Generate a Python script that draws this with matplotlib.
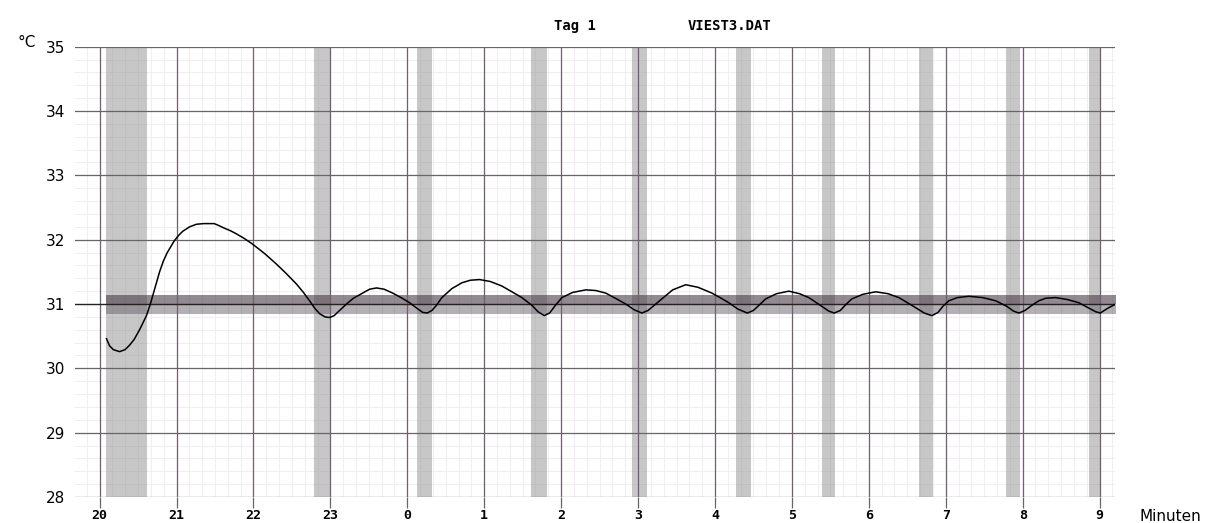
import matplotlib
matplotlib.use("Agg")
import matplotlib.pyplot as plt
import numpy as np

# hours since 20:00 and temperature in degC
t = [0.09, 0.13, 0.18, 0.26, 0.33, 0.39, 0.45, 0.52, 0.61, 0.66, 0.72, 0.78,
     0.83, 0.88, 0.93, 0.97, 1.03, 1.08, 1.17, 1.26, 1.35, 1.49, 1.55, 1.62,
     1.70, 1.78, 1.88, 1.99, 2.15, 2.30, 2.43, 2.56, 2.65, 2.73, 2.80, 2.86,
     2.93, 2.99, 3.05, 3.12, 3.21, 3.30, 3.42, 3.51, 3.60, 3.70, 3.81, 3.92,
     4.03, 4.13, 4.20, 4.26, 4.32, 4.38, 4.45, 4.58, 4.71, 4.82, 4.94, 5.08,
     5.23, 5.36, 5.49, 5.62, 5.70, 5.78, 5.85, 5.92, 6.01, 6.15, 6.32, 6.45,
     6.58, 6.72, 6.84, 6.95, 7.05, 7.13, 7.20, 7.31, 7.45, 7.62, 7.78, 7.96,
     8.08, 8.18, 8.30, 8.42, 8.50, 8.58, 8.66, 8.80, 8.96, 9.10, 9.22, 9.38,
     9.48, 9.55, 9.63, 9.70, 9.78, 9.92, 10.09, 10.25, 10.39, 10.60, 10.72,
     10.82, 10.90, 10.96, 11.04, 11.15, 11.30, 11.48, 11.65, 11.80, 11.88,
     11.95, 12.03, 12.12, 12.21, 12.30, 12.43, 12.58, 12.73, 12.87, 12.95,
     13.01, 13.10, 13.21]
temp = [30.46, 30.35, 30.29, 30.26, 30.29, 30.36, 30.45, 30.60, 30.82, 31.00,
        31.25, 31.50, 31.67, 31.80, 31.90, 31.98, 32.07, 32.13, 32.20, 32.24,
        32.25, 32.25, 32.22, 32.18, 32.14, 32.09, 32.02, 31.93, 31.78, 31.62,
        31.47, 31.31, 31.18, 31.05, 30.93, 30.85, 30.80, 30.79, 30.82, 30.90,
        31.00, 31.09, 31.17, 31.23, 31.25, 31.23, 31.17, 31.10, 31.02, 30.93,
        30.87, 30.86, 30.90, 30.98, 31.10, 31.24, 31.33, 31.37, 31.38, 31.35,
        31.28, 31.19, 31.10, 30.98, 30.88, 30.82, 30.86, 30.97, 31.10, 31.18,
        31.22, 31.21, 31.17, 31.08, 31.00, 30.91, 30.86, 30.90, 30.97, 31.08,
        31.22, 31.30, 31.26, 31.17, 31.09, 31.02, 30.92, 30.86, 30.90, 30.99,
        31.08, 31.16, 31.20, 31.16, 31.10, 30.97, 30.89, 30.86, 30.90, 30.99,
        31.08, 31.15, 31.19, 31.16, 31.10, 30.95, 30.86, 30.82, 30.87, 30.96,
        31.05, 31.10, 31.12, 31.10, 31.05, 30.96, 30.89, 30.86, 30.90, 30.98,
        31.05, 31.09, 31.10, 31.07, 31.02, 30.93, 30.88, 30.86, 30.93, 31.00]

# heating periods (start, end) in hours since 20:00
band_start = [0.09, 2.79, 4.12, 5.61, 6.92, 8.27, 9.39, 10.65, 11.78, 12.86]
band_end = [0.62, 3.01, 4.32, 5.82, 7.12, 8.47, 9.56, 10.84, 11.96, 13.00]

setpoint = 31.0
tol_upper = 31.14
tol_lower = 30.85

hour_labels = ['20', '21', '22', '23', '0', '1', '2', '3', '4', '5', '6', '7', '8', '9']
temp_ticks = [28, 29, 30, 31, 32, 33, 34, 35]

fig = plt.figure(figsize=(12.11, 5.23), dpi=100)
ax = fig.add_axes([0.0619, 0.0497, 0.8588, 0.861])

ax.set_xlim(-0.32, 13.2)
ax.set_ylim(28, 35)

# faint minor grid
for x in np.arange(-1 / 6, 13.2, 1 / 6):
    ax.axvline(x, color='#f0eef0', lw=0.8, zorder=0)
for y in np.arange(28.2, 35, 0.2):
    ax.axhline(y, color='#f0eef0', lw=0.8, zorder=0)

# vertical heater bands
for a, b in zip(band_start, band_end):
    ax.axvspan(a, b, color='#9a9a9a', alpha=0.55, lw=0, zorder=1)

# tolerance band around setpoint
ax.fill_between([t[0], t[-1]], setpoint, tol_upper, color='#4a3a48', alpha=0.6, lw=0, zorder=2)
ax.fill_between([t[0], t[-1]], tol_lower, setpoint, color='#6a606a', alpha=0.5, lw=0, zorder=2)

# major grid
for i in range(len(hour_labels)):
    ax.axvline(i, color='#6e606e', lw=0.9, zorder=3)
for y in temp_ticks:
    if y != setpoint:
        ax.axhline(y, color='#6e606e', lw=0.9, zorder=3)
ax.axhline(setpoint, color='#222222', lw=1.0, zorder=3)

ax.plot(t, temp, color='black', lw=1.1, zorder=5)

for s in ax.spines.values():
    s.set_visible(False)

ax.set_xticks(range(len(hour_labels)))
ax.set_xticklabels(hour_labels, family='DejaVu Sans Mono', fontweight='bold', fontsize=9.5)
ax.tick_params(axis='x', length=8, color='#6e606e', width=0.9, pad=0.5)
ax.set_yticks(temp_ticks)
ax.set_yticklabels([str(v) for v in temp_ticks], fontsize=11)
ax.tick_params(axis='y', length=0, pad=7)

fig.text(0.0145, 0.918, '°C', fontsize=11, va='center')
fig.text(0.941, 0.013, 'Minuten', fontsize=11, va='center')
fig.text(0.475, 0.951, 'Tag 1', family='DejaVu Sans Mono', fontweight='bold',
         fontsize=10, ha='center', va='center')
fig.text(0.602, 0.951, 'VIEST3.DAT', family='DejaVu Sans Mono', fontweight='bold',
         fontsize=10, ha='center', va='center')

fig.savefig('out.png', dpi=100)
